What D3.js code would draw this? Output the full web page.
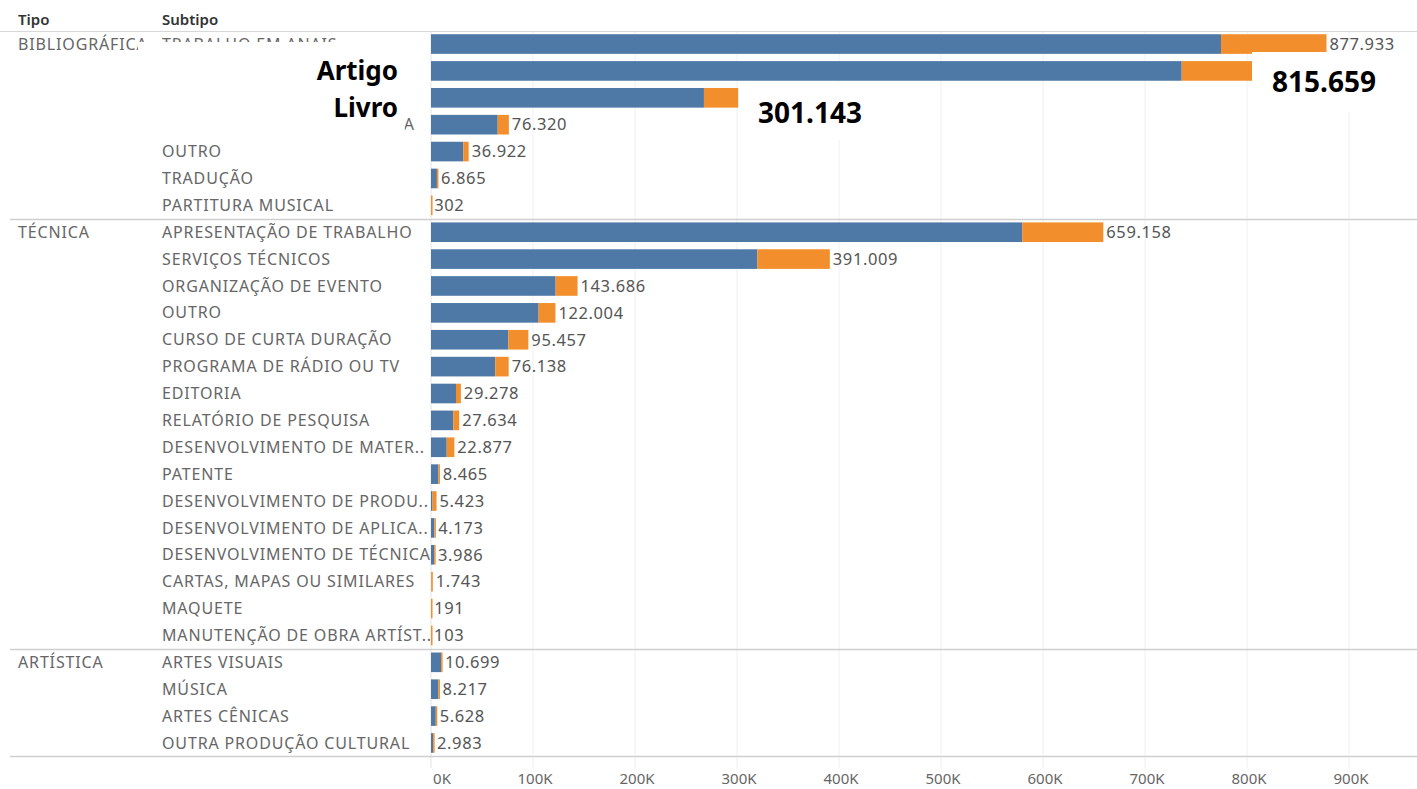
<!DOCTYPE html>
<html>
<head>
<meta charset="utf-8">
<script src="https://cdn.jsdelivr.net/npm/d3@7"></script>
<style>
  body { margin: 0; background: #fff; }
  text { font-family: "Noto Sans", "Open Sans", sans-serif; }
</style>
</head>
<body>
<div class="chart"></div>
<script>
// tipo de produção, quantas linhas cada um ocupa
var tipos = ["BIBLIOGRÁFICA", "TÉCNICA", "ARTÍSTICA"]
var tipoLinhas = [7, 16, 4]

var subtipos = [
  "TRABALHO EM ANAIS", "Artigo", "Livro", "TEXTO EM JORNAL OU REVISTA", "OUTRO", "TRADUÇÃO", "PARTITURA MUSICAL",
  "APRESENTAÇÃO DE TRABALHO", "SERVIÇOS TÉCNICOS", "ORGANIZAÇÃO DE EVENTO", "OUTRO", "CURSO DE CURTA DURAÇÃO",
  "PROGRAMA DE RÁDIO OU TV", "EDITORIA", "RELATÓRIO DE PESQUISA", "DESENVOLVIMENTO DE MATER..",
  "PATENTE", "DESENVOLVIMENTO DE PRODU..", "DESENVOLVIMENTO DE APLICA..", "DESENVOLVIMENTO DE TÉCNICA",
  "CARTAS, MAPAS OU SIMILARES", "MAQUETE", "MANUTENÇÃO DE OBRA ARTÍST..",
  "ARTES VISUAIS", "MÚSICA", "ARTES CÊNICAS", "OUTRA PRODUÇÃO CULTURAL"
]
// linhas que foram destacadas em negrito (rotulo colado por cima)
var destaque = [1, 2]

// total de cada subtipo (rótulo)
var totais = [877933, 815659, 301143, 76320, 36922, 6865, 302,
  659158, 391009, 143686, 122004, 95457, 76138, 29278, 27634, 22877,
  8465, 5423, 4173, 3986, 1743, 191, 103,
  10699, 8217, 5628, 2983]

// parte azul (estimada da imagem), o resto e laranja
var azul = [774500, 736000, 267600, 65400, 31700, 5800, 40,
  579600, 320000, 122200, 105500, 75800, 63000, 24500, 21900, 15400,
  7300, 1500, 3300, 3100, 300, 20, 10,
  9900, 7300, 4700, 2100]

var xTicks = [0, 100000, 200000, 300000, 400000, 500000, 600000, 700000, 800000, 900000]

var w = 1417
var h = 789

var loc = d3.formatLocale({decimal: ",", thousands: ".", grouping: [3], currency: ["R$", ""]})
var fmt = loc.format(",d")

var svg = d3.select(".chart").append("svg")
  .attr("width", w)
  .attr("height", h)

var x = d3.scaleLinear()
  .domain([0, 900000])
  .range([431, 1349])

var y = d3.scaleBand()
  .domain(d3.range(subtipos.length))
  .range([30.6, 756.4])
  .paddingInner(0.27)
  .paddingOuter(0.135)

var step = y.step()
function mid(i) { return y(i) + y.bandwidth() / 2 }

var linhas = subtipos.map(function(s, i) {
  return {nome: s, i: i, total: totais[i], azul: azul[i]}
})
var normais = linhas.filter(function(d) { return destaque.indexOf(d.i) < 0 })

// grid
svg.append("g")
  .selectAll("line")
  .data(xTicks)
  .enter()
  .append("line")
  .attr("x1", function(d) { return x(d) })
  .attr("x2", function(d) { return x(d) })
  .attr("y1", 31)
  .attr("y2", 768)
  .attr("stroke", function(d) { return d === 0 ? "#e4e4e4" : "#f0f0f0" })
  .attr("stroke-width", 1)

// header
svg.append("text").attr("x", 18).attr("y", 25).text("Tipo")
  .attr("font-size", 15).attr("font-weight", 600).attr("fill", "#333")
svg.append("text").attr("x", 162).attr("y", 25).text("Subtipo")
  .attr("font-size", 15).attr("font-weight", 600).attr("fill", "#333")

svg.append("line").attr("x1", 0).attr("x2", w).attr("y1", 31.5).attr("y2", 31.5)
  .attr("stroke", "#d8d8d8")

// tipos + divisorias
var inicio = 0
var divs = []
tipoLinhas.forEach(function(n, i) {
  svg.append("text")
    .attr("x", 18)
    .attr("y", mid(inicio))
    .attr("dy", "0.35em")
    .attr("font-size", 16)
    .attr("letter-spacing", 0.85)
    .attr("fill", "#666")
    .text(tipos[i])
  inicio += n
  divs.push(inicio)
})

svg.append("g")
  .selectAll("line")
  .data(divs)
  .enter()
  .append("line")
  .attr("x1", 10)
  .attr("x2", w)
  .attr("y1", function(d) { return Math.round(30.6 + d * step) + 0.5 })
  .attr("y2", function(d) { return Math.round(30.6 + d * step) + 0.5 })
  .attr("stroke", "#cfcfcf")
  .attr("stroke-width", 1.5)

// subtipos (menos os destacados)
var subLabels = svg.append("g")
  .selectAll("text")
  .data(normais)
  .enter()
  .append("text")
  .attr("x", 162)
  .attr("y", function(d) { return mid(d.i) })
  .attr("dy", "0.35em")
  .attr("font-size", 16)
  .attr("letter-spacing", 0.85)
  .attr("fill", "#666")
  .text(function(d) { return d.nome })

// barras azuis
svg.append("g")
  .selectAll("rect")
  .data(linhas)
  .enter()
  .append("rect")
  .attr("x", x(0))
  .attr("y", function(d) { return y(d.i) })
  .attr("width", function(d) { return x(d.azul) - x(0) })
  .attr("height", y.bandwidth())
  .attr("fill", "#4e79a7")

// barras laranja
svg.append("g")
  .selectAll("rect")
  .data(linhas)
  .enter()
  .append("rect")
  .attr("x", function(d) { return x(d.azul) })
  .attr("y", function(d) { return y(d.i) })
  .attr("width", function(d) { return Math.max(x(d.total) - x(d.azul), 1.5) })
  .attr("height", y.bandwidth())
  .attr("fill", "#f28e2b")

// rotulos de valor (os destacados vao em negrito mais abaixo)
svg.append("g")
  .selectAll("text")
  .data(normais)
  .enter()
  .append("text")
  .attr("x", function(d) { return x(d.total) + 3 })
  .attr("y", function(d) { return mid(d.i) })
  .attr("dy", "0.35em")
  .attr("font-size", 16.5)
  .attr("letter-spacing", 0.6)
  .attr("fill", "#555")
  .text(function(d) { return fmt(d.total) })

// eixo x
svg.append("g")
  .selectAll("text")
  .data(xTicks)
  .enter()
  .append("text")
  .attr("x", function(d) { return d === 0 ? x(d) + 11 : x(d) + 2 })
  .attr("y", 784)
  .attr("text-anchor", "middle")
  .attr("font-size", 15)
  .attr("fill", "#666")
  .text(function(d) { return (d / 1000) + "K" })

// caixas brancas coladas por cima (anotacoes)
// a caixa deixa aparecer so a ultima letra do rotulo da linha 4
var lenTexto = subLabels.filter(function(d) { return d.i === 3 }).node().getComputedTextLength()
var caixaDir = Math.min(162 + lenTexto - 10, 420)
svg.append("rect").attr("x", 138).attr("y", 42).attr("width", caixaDir - 138).attr("height", 98)
  .attr("fill", "#fff")
svg.append("text").attr("x", 398).attr("y", mid(1)).attr("dy", "0.35em")
  .attr("text-anchor", "end").attr("font-size", 26).attr("font-weight", 700).attr("fill", "#000")
  .text(subtipos[1])
svg.append("text").attr("x", 398).attr("y", mid(2) + 10).attr("dy", "0.35em")
  .attr("text-anchor", "end").attr("font-size", 26).attr("font-weight", 700).attr("fill", "#000")
  .text(subtipos[2])

svg.append("rect").attr("x", 1252).attr("y", 52).attr("width", 165).attr("height", 60)
  .attr("fill", "#fff")
svg.append("text").attr("x", 1324).attr("y", mid(1) + 11).attr("dy", "0.35em")
  .attr("text-anchor", "middle").attr("font-size", 28).attr("font-weight", 700).attr("fill", "#000")
  .text(fmt(totais[1]))

svg.append("rect").attr("x", x(totais[2]) + 1).attr("y", 82).attr("width", 146).attr("height", 58)
  .attr("fill", "#fff")
svg.append("text").attr("x", 810).attr("y", mid(2) + 15).attr("dy", "0.35em")
  .attr("text-anchor", "middle").attr("font-size", 28).attr("font-weight", 700).attr("fill", "#000")
  .text(fmt(totais[2]))
</script>
</body>
</html>
